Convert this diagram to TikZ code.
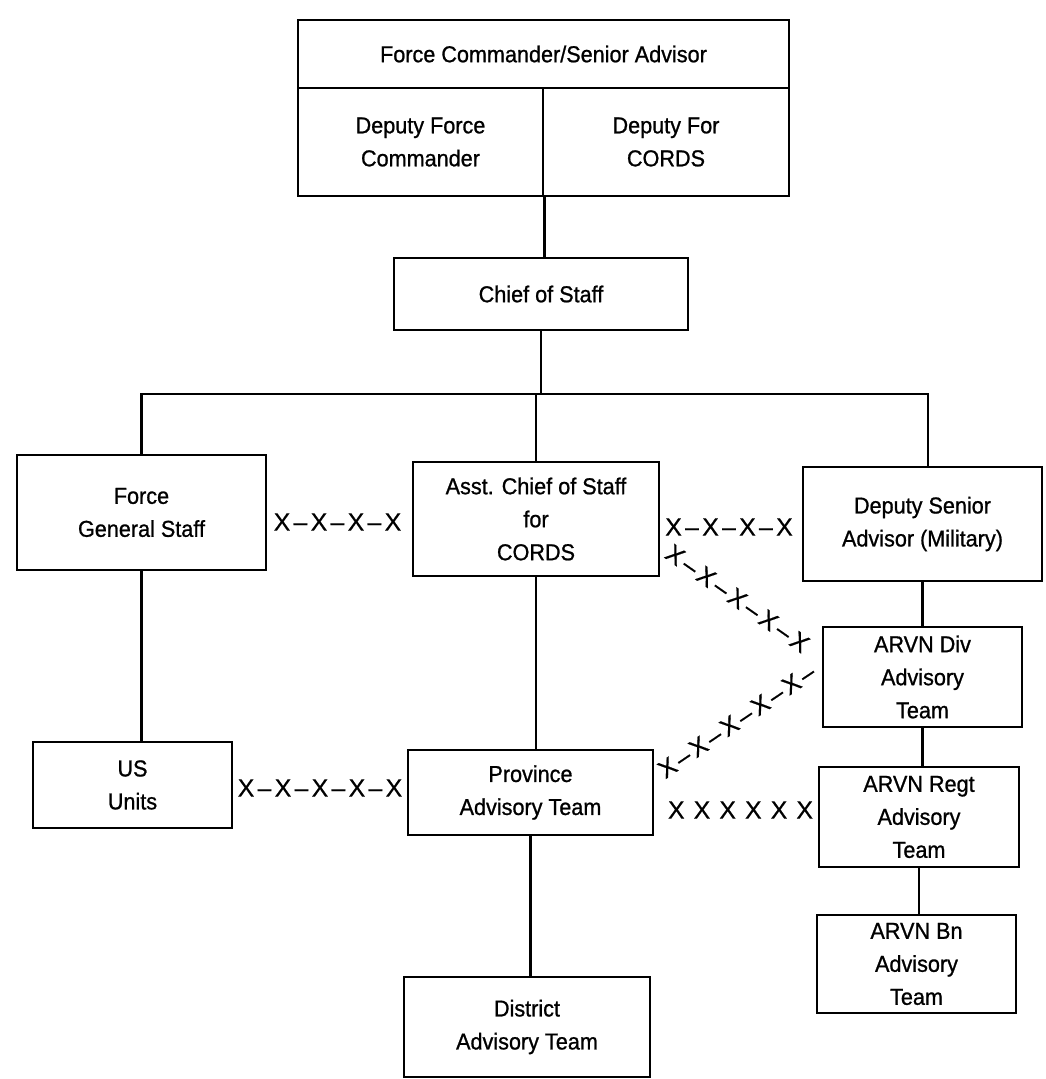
\documentclass[tikz,border=0pt]{standalone}
\usepackage{fontspec}
\setmainfont{Liberation Sans}[FakeBold=0.9, FakeStretch=0.94]
\newfontfamily\chainfont{Liberation Sans}[FakeBold=0.4]
% dash between two crosses of a liaison chain
\newcommand{\xd}[1]{\kern#1–\kern#1}
\begin{document}
\begin{tikzpicture}[x=1pt,y=-1pt,
  box/.style={draw, line width=2.7pt, rectangle, align=center, inner sep=0pt,
              font=\fontsize{23}{33}\selectfont},
  link/.style={line width=2.3pt},
  xchain/.style={inner sep=0pt, font=\chainfont\fontsize{25}{30}\selectfont}]
\useasboundingbox[fill=white] (0,0) rectangle (1046,1079);

% command group
\node[box, minimum width=491pt, minimum height=68pt]  (fcsa)   at (543.5,54)  {Force Commander/Senior Advisor};
\node[box, minimum width=245pt, minimum height=108pt] (dfc)    at (420.5,142) {Deputy Force\\Commander};
\node[box, minimum width=246pt, minimum height=108pt] (dcords) at (666,142)   {Deputy For\\CORDS};
\node[box, minimum width=294pt, minimum height=72pt]  (cos)    at (541,294)   {Chief of Staff};

% staff level
\node[box, minimum width=249pt, minimum height=115pt] (fgs)  at (141.5,512.5) {Force\\General Staff};
\node[box, minimum width=246pt, minimum height=114pt] (acos) at (536,519)     {Asst. Chief of Staff\\for\\CORDS};
\node[box, minimum width=239pt, minimum height=114pt] (dsa)  at (922.5,524)   {Deputy Senior\\Advisor (Military)};

% field level
\node[box, minimum width=199pt, minimum height=100pt] (div)  at (922.5,677)   {ARVN Div\\Advisory\\Team};
\node[box, minimum width=200pt, minimum height=100pt] (regt) at (919,817)     {ARVN Regt\\Advisory\\Team};
\node[box, minimum width=199pt, minimum height=98pt]  (bn)   at (916.5,964)   {ARVN Bn\\Advisory\\Team};
\node[box, minimum width=199pt, minimum height=86pt]  (usu)  at (132.5,785)   {US\\Units};
\node[box, minimum width=245pt, minimum height=85pt]  (prov) at (530.5,792.5) {Province\\Advisory Team};
\node[box, minimum width=246pt, minimum height=100pt] (dist) at (527,1027)    {District\\Advisory Team};

% command lines
\coordinate (busL) at (141.5,394);
\coordinate (busR) at (928,394);
\draw[link] (dfc.south east) -- (dfc.south east |- cos.north);
\draw[link] (cos.south) -- (cos.south |- busL);
\draw[link] (fgs.north) -- (busL) -- (busR) -- (busR |- dsa.north);
\draw[link] (acos.north) -- (acos.north |- busL);
\draw[link] (fgs.south) -- (fgs.south |- usu.north);
\draw[link] (acos.south) -- (acos.south |- prov.north);
\draw[link] (prov.south) -- (prov.south |- dist.north);
\draw[link] (dsa.south) -- (dsa.south |- div.north);
\draw[link] (div.south) -- (div.south |- regt.north);
\draw[link] (regt.south) -- (regt.south |- bn.north);

% coordination chains
\node[xchain] (xa) at (337.5,522) {X\xd{3.2pt}X\xd{3.2pt}X\xd{3.2pt}X};
\node[xchain] (xb) at (729,527)   {X\xd{3.2pt}X\xd{3.2pt}X\xd{3.2pt}X};
\node[xchain] (xc) at (320,788)   {X\xd{3.2pt}X\xd{3.2pt}X\xd{3.2pt}X\xd{3.2pt}X};
\node[xchain] (xd) at (740.5,810) {X\kern9pt X\kern9pt X\kern9pt X\kern9pt X\kern9pt X};
\node[xchain, rotate=-35] (xe) at (737.5,598.5) {X\xd{3.7pt}X\xd{3.7pt}X\xd{3.7pt}X\xd{3.7pt}X};
\node[xchain, rotate=34]  (xf) at (738,720)     {X\xd{3.4pt}X\xd{3.4pt}X\xd{3.4pt}X\xd{3.4pt}X\xd{3.4pt}};
\end{tikzpicture}
\end{document}
